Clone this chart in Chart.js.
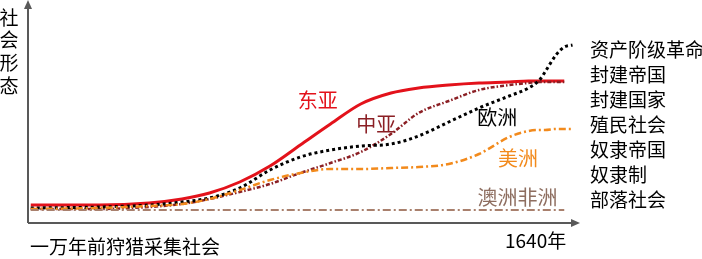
<!DOCTYPE html>
<html>
<head>
<meta charset="utf-8">
<script src="https://cdn.jsdelivr.net/npm/chart.js@4/dist/chart.umd.min.js"></script>
<style>
html,body{margin:0;padding:0;background:#fff;}
#wrap{width:702px;height:259px;position:relative;}
</style>
</head>
<body>
<div id="wrap"><canvas id="c" width="702" height="259"></canvas></div>
<script>
// time axis (0 = 一万年前, 100 = just after 1640年)
const timeGrid = [0.5, 13, 22, 28, 33, 38.5, 44, 49.5, 55, 60.5, 66, 71, 76.5, 82, 87.5, 91, 93, 94, 96, 97.5, 99];
// social-form level: 1 部落社会 … 7 资产阶级革命
const eastAsia    = [0.80,0.80,0.88,1.04,1.28,1.72,2.36,3.20,4.04,4.84,5.28,5.48,5.60,5.68,5.72,5.76,5.76,5.76,5.76,5.76,null];
const centralAsia = [0.64,0.64,0.72,0.84,1.04,1.32,1.64,2.08,2.48,2.92,3.64,4.48,4.96,5.40,5.60,5.68,5.72,5.72,5.72,5.72,null];
const europe      = [0.68,0.72,0.80,0.92,1.08,1.48,2.20,2.72,3.00,3.16,3.24,3.56,4.12,4.68,5.16,5.48,5.80,6.12,6.80,7.12,7.20];
const americas    = [0.64,0.68,0.76,0.84,1.04,1.40,1.80,2.08,2.24,2.24,2.28,2.32,2.44,2.84,3.52,3.76,3.80,3.80,3.84,3.84,3.84];
const ausAfrica   = [0.60,0.60,0.60,0.60,0.60,0.60,0.60,0.60,0.60,0.60,0.60,0.60,0.60,0.60,0.60,0.60,0.60,0.60,0.60,0.60,null];

const levelNames = ['部落社会','奴隶制','奴隶帝国','殖民社会','封建国家','封建帝国','资产阶级革命'];
const seriesNames = ['东亚','中亚','欧洲','美洲','澳洲非洲'];
const yAxisTitle = '社会形态';
const xStartLabel = '一万年前狩猎采集社会';
const xEndLabel = '1640年';

const toPts = arr => timeGrid.map((t,i)=>({x:t,y:arr[i]}));

const styles = [
  {c:'#E3121B', w:3,   dash:[]},
  {c:'#8B1F24', w:2.5, dash:[4,2,1.5,2]},
  {c:'#000000', w:3,   dash:[3,3]},
  {c:'#F28A1C', w:2.5, dash:[7,3,2,3]},
  {c:'#A9806D', w:2,   dash:[8,3,2,3]}
];
const allData = [eastAsia, centralAsia, europe, americas, ausAfrica];
// label anchors (time, level) and colours
const seriesLabelPos = [[52.7,5.0],[63.3,4.04],[85.3,4.32],[89.1,2.68],[89,1.12]];
const seriesLabelColors = ['#E3121B','#8B1F24','#000000','#F28A1C','#8E6E60'];

const axesPlugin = {
  id:'axes',
  beforeDatasetsDraw(chart){
    const {ctx, chartArea:a} = chart;
    ctx.save();
    ctx.strokeStyle='#595959'; ctx.fillStyle='#595959'; ctx.lineWidth=2;
    ctx.beginPath(); ctx.moveTo(a.left, a.bottom); ctx.lineTo(a.left, a.top+3);
    ctx.moveTo(a.left, a.bottom); ctx.lineTo(a.right-2, a.bottom); ctx.stroke();
    // arrow heads
    ctx.beginPath(); ctx.moveTo(a.left, a.top); ctx.lineTo(a.left-4, a.top+9); ctx.lineTo(a.left+4, a.top+9); ctx.closePath(); ctx.fill();
    ctx.beginPath(); ctx.moveTo(a.right+2, a.bottom); ctx.lineTo(a.right-7, a.bottom-4); ctx.lineTo(a.right-7, a.bottom+4); ctx.closePath(); ctx.fill();
    ctx.restore();
  },
  afterDraw(chart){
    const {ctx, scales:{x,y}, chartArea:a} = chart;
    ctx.save();
    ctx.textBaseline='middle';
    ctx.font='19px "Noto Sans CJK SC", sans-serif';
    ctx.fillStyle='#000'; ctx.textAlign='left';
    levelNames.forEach((n,i)=>{ ctx.fillText(n, a.right+12, y.getPixelForValue(i+1)); });
    ctx.font='20px "Noto Sans CJK SC", sans-serif';
    ctx.textAlign='center';
    seriesNames.forEach((n,i)=>{
      ctx.fillStyle=seriesLabelColors[i];
      ctx.fillText(n, x.getPixelForValue(seriesLabelPos[i][0]), y.getPixelForValue(seriesLabelPos[i][1]));
    });
    ctx.fillStyle='#000';
    ctx.font='19px "Noto Sans CJK SC", sans-serif';
    [...yAxisTitle].forEach((ch,i)=>{ ctx.fillText(ch, 9, 17.5+22.7*i); });
    ctx.textAlign='left';
    ctx.fillText(xStartLabel, 30, 247);
    ctx.fillText(xEndLabel, 505, 241);
    ctx.restore();
  }
};

new Chart(document.getElementById('c'), {
  type:'line',
  data:{
    datasets: allData.map((d,i)=>({
      label: seriesNames[i],
      data: toPts(d),
      borderColor: styles[i].c,
      borderWidth: styles[i].w,
      borderDash: styles[i].dash,
      borderCapStyle:'butt',
      pointRadius:0,
      fill:false,
      cubicInterpolationMode:'monotone',
      spanGaps:false
    })).reverse()
  },
  options:{
    responsive:false,
    animation:false,
    layout:{padding:{left:28,right:124,top:0,bottom:36}},
    plugins:{legend:{display:false},tooltip:{enabled:false}},
    scales:{
      x:{type:'linear',min:0,max:100,display:false},
      y:{type:'linear',min:0.08,max:9,display:false}
    }
  },
  plugins:[axesPlugin]
});
</script>
</body>
</html>
